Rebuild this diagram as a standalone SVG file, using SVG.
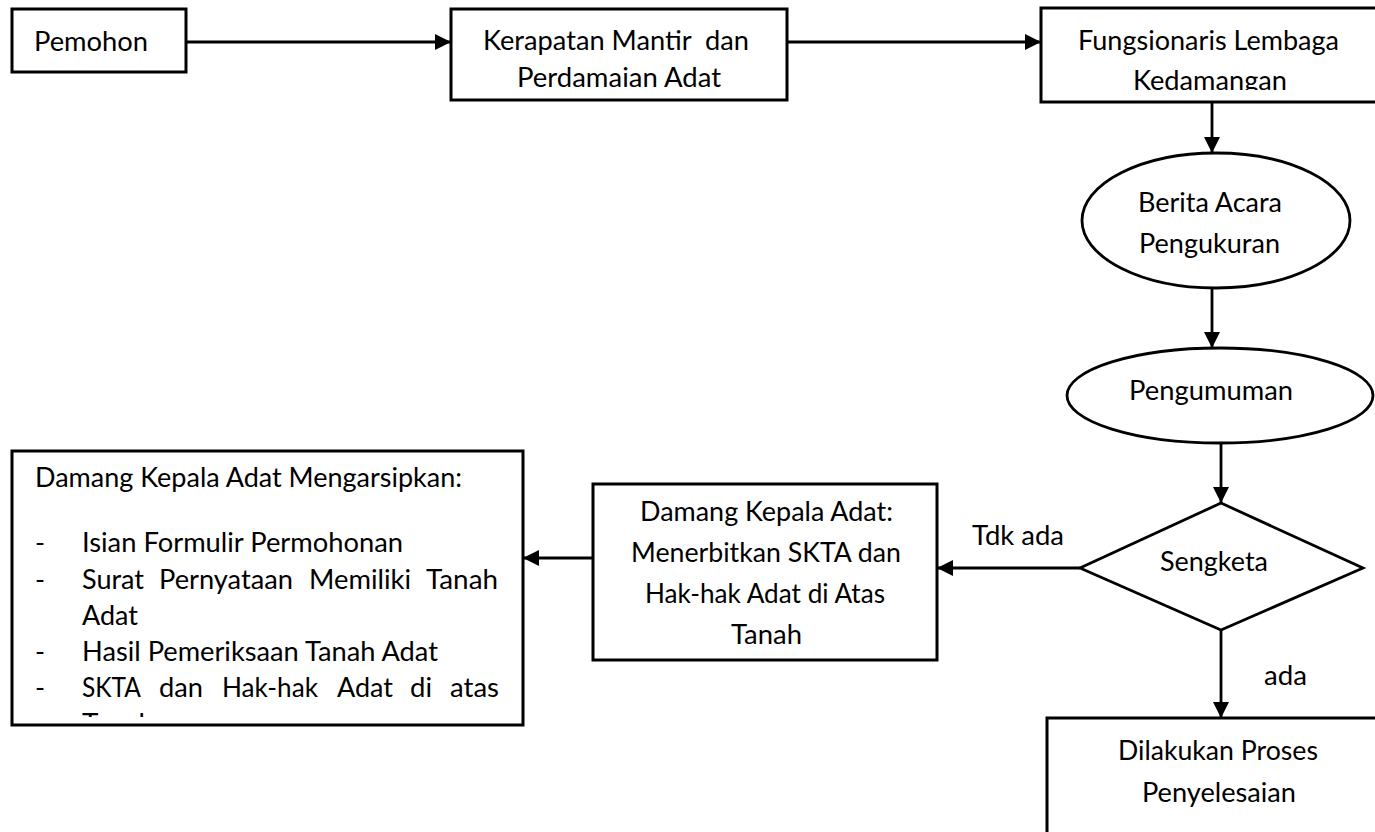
<svg xmlns="http://www.w3.org/2000/svg" width="1375" height="832" viewBox="0 0 1375 832">
<style>
.box{fill:#fff;stroke:#000;stroke-width:3}
.shape{fill:#fff;stroke:#000;stroke-width:2.8}
.ln{fill:none;stroke:#000;stroke-width:2.8}
text{font-family:Lato,"Open Sans","Liberation Sans",sans-serif;font-size:27px;fill:#000}
</style>
<defs>
<marker id="ah" markerUnits="userSpaceOnUse" markerWidth="17" markerHeight="16" refX="16" refY="8" orient="auto">
<path d="M0,0 L16,8 L0,16 Z" fill="#000"/>
</marker>
<clipPath id="clipF"><rect x="1041" y="8" width="340" height="82"/></clipPath>
<clipPath id="clipL"><rect x="12" y="440" width="512" height="277"/></clipPath>
</defs>
<rect width="1375" height="832" fill="#fff"/>
<g id="connectors">
<line class="ln" x1="186" y1="42" x2="451" y2="42" marker-end="url(#ah)"/>
<line class="ln" x1="787" y1="42" x2="1041" y2="42" marker-end="url(#ah)"/>
<line class="ln" x1="1212" y1="102" x2="1212" y2="153" marker-end="url(#ah)"/>
<line class="ln" x1="1212" y1="288" x2="1212" y2="348" marker-end="url(#ah)"/>
<line class="ln" x1="1221" y1="443" x2="1221" y2="503" marker-end="url(#ah)"/>
<line class="ln" x1="1080" y1="568" x2="937" y2="568" marker-end="url(#ah)"/>
<line class="ln" x1="593" y1="558" x2="523" y2="558" marker-end="url(#ah)"/>
<line class="ln" x1="1221" y1="630" x2="1221" y2="718" marker-end="url(#ah)"/>
<text x="972" y="545" textLength="92" lengthAdjust="spacingAndGlyphs">Tdk ada</text>
<text x="1264" y="685" textLength="43" lengthAdjust="spacingAndGlyphs">ada</text>
</g>
<g id="pemohon">
<rect class="box" x="12" y="9" width="174" height="63"/>
<text x="34" y="51" textLength="114" lengthAdjust="spacingAndGlyphs">Pemohon</text>
</g>
<g id="kerapatan">
<rect class="box" x="451" y="9" width="336" height="91"/>
<text x="483" y="50" textLength="266" lengthAdjust="spacingAndGlyphs" xml:space="preserve">Kerapatan Mantir  dan</text>
<text x="517" y="87" textLength="204" lengthAdjust="spacingAndGlyphs">Perdamaian Adat</text>
</g>
<g id="fungsionaris">
<rect class="box" x="1041" y="8" width="340" height="94"/>
<text x="1078" y="50" textLength="261" lengthAdjust="spacingAndGlyphs">Fungsionaris Lembaga</text>
<text x="1133" y="90" textLength="154" lengthAdjust="spacingAndGlyphs" clip-path="url(#clipF)">Kedamangan</text>
</g>
<g id="berita">
<ellipse class="shape" cx="1216" cy="220.5" rx="134" ry="67.5"/>
<text x="1138" y="212" textLength="144" lengthAdjust="spacingAndGlyphs">Berita Acara</text>
<text x="1139" y="253" textLength="141" lengthAdjust="spacingAndGlyphs">Pengukuran</text>
</g>
<g id="pengumuman">
<ellipse class="shape" cx="1220" cy="395.5" rx="153" ry="47.5"/>
<text x="1129" y="400" textLength="164" lengthAdjust="spacingAndGlyphs">Pengumuman</text>
</g>
<g id="sengketa">
<polygon class="shape" points="1221,503 1363,568 1221,630 1080,568"/>
<text x="1160" y="571" textLength="108" lengthAdjust="spacingAndGlyphs">Sengketa</text>
</g>
<g id="menerbitkan">
<rect class="box" x="593" y="484" width="344" height="176"/>
<text x="640" y="521" textLength="253" lengthAdjust="spacingAndGlyphs">Damang Kepala Adat:</text>
<text x="631" y="562" textLength="270" lengthAdjust="spacingAndGlyphs">Menerbitkan SKTA dan</text>
<text x="645" y="603" textLength="240" lengthAdjust="spacingAndGlyphs">Hak-hak Adat di Atas</text>
<text x="731" y="644" textLength="71" lengthAdjust="spacingAndGlyphs">Tanah</text>
</g>
<g id="dilakukan">
<rect class="box" x="1047" y="718" width="345" height="116"/>
<text x="1118" y="760" textLength="200" lengthAdjust="spacingAndGlyphs">Dilakukan Proses</text>
<text x="1142" y="802" textLength="154" lengthAdjust="spacingAndGlyphs">Penyelesaian</text>
</g>
<g id="arsip">
<rect class="box" x="12" y="451" width="511" height="274"/>
<text x="35" y="487" textLength="427" lengthAdjust="spacingAndGlyphs">Damang Kepala Adat Mengarsipkan:</text>
<text x="35" y="552">-</text>
<text x="82" y="552" textLength="321" lengthAdjust="spacingAndGlyphs">Isian Formulir Permohonan</text>
<text x="35" y="589">-</text>
<text x="82" y="589" textLength="62" lengthAdjust="spacingAndGlyphs">Surat</text>
<text x="159" y="589" textLength="134" lengthAdjust="spacingAndGlyphs">Pernyataan</text>
<text x="309" y="589" textLength="102" lengthAdjust="spacingAndGlyphs">Memiliki</text>
<text x="426" y="589" textLength="72" lengthAdjust="spacingAndGlyphs">Tanah</text>
<text x="82" y="625" textLength="56" lengthAdjust="spacingAndGlyphs">Adat</text>
<text x="35" y="661">-</text>
<text x="82" y="661" textLength="356" lengthAdjust="spacingAndGlyphs">Hasil Pemeriksaan Tanah Adat</text>
<text x="35" y="697">-</text>
<text x="82" y="697" textLength="59" lengthAdjust="spacingAndGlyphs">SKTA</text>
<text x="159" y="697" textLength="44" lengthAdjust="spacingAndGlyphs">dan</text>
<text x="222" y="697" textLength="96" lengthAdjust="spacingAndGlyphs">Hak-hak</text>
<text x="337" y="697" textLength="56" lengthAdjust="spacingAndGlyphs">Adat</text>
<text x="410" y="697" textLength="22" lengthAdjust="spacingAndGlyphs">di</text>
<text x="450" y="697" textLength="49" lengthAdjust="spacingAndGlyphs">atas</text>
<text x="82" y="733" textLength="72" lengthAdjust="spacingAndGlyphs" clip-path="url(#clipL)">Tanah</text>
</g>
</svg>
